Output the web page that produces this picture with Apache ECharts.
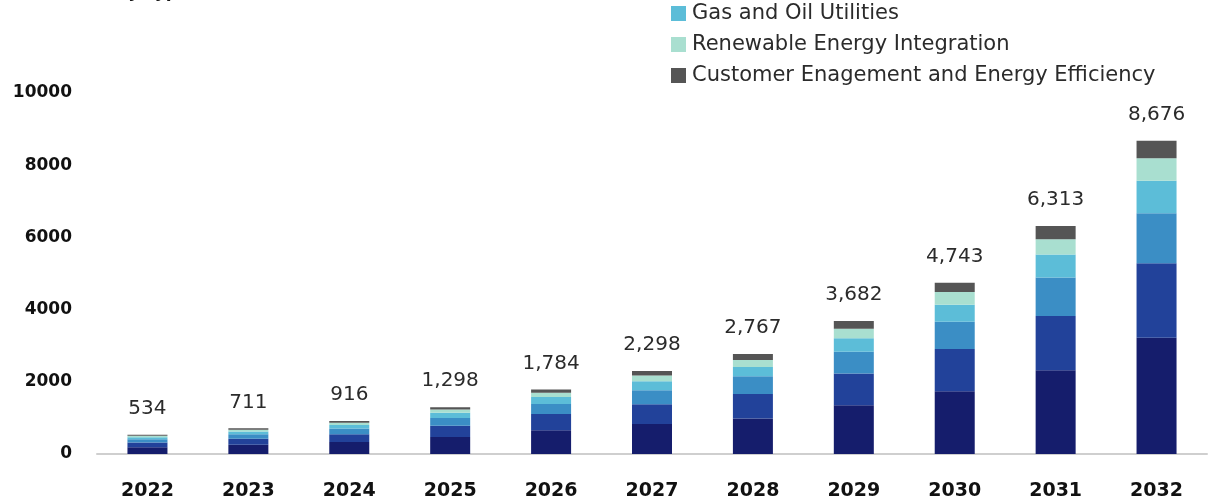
<!DOCTYPE html>
<html>
<head>
<meta charset="utf-8">
<script src="https://cdn.jsdelivr.net/npm/echarts@6/dist/echarts.min.js"></script>
<style>
  html, body { margin: 0; padding: 0; background: #ffffff; }
  #chart { width: 1212px; height: 502px; }
</style>
</head>
<body>
<div id="chart"></div>
<script>
// Years on the category axis
const years = ['2022', '2023', '2024', '2025', '2026', '2027', '2028', '2029', '2030', '2031', '2032'];

// Segment values (USD Million), bottom of the stack first
const segmentA = [190, 255, 330, 470, 661, 832, 982, 1349, 1737, 2319, 3219];
const segmentB = [130, 170, 220, 310, 444, 549, 680, 881, 1174, 1505, 2062];
const segmentC = [90, 120, 155, 220, 283, 388, 491, 600, 751, 1066, 1390];
const gasAndOil = [55, 75, 98, 140, 189, 246, 255, 375, 470, 636, 896];
const renewable = [40, 52, 66, 92, 123, 161, 198, 262, 357, 421, 625];
const engagement = [29, 39, 47, 66, 84, 122, 161, 215, 254, 366, 484];

// Value axis ticks
const yMin = 0;
const yMax = 10000;
const yStep = 2000;

const FONT = '"DejaVu Sans", "Noto Sans", sans-serif';

const stackDefs = [
  { name: 'Segment A', data: segmentA, color: '#151d6c' },
  { name: 'Segment B', data: segmentB, color: '#22429a' },
  { name: 'Segment C', data: segmentC, color: '#3b8ec5' },
  { name: 'Gas and Oil Utilities', data: gasAndOil, color: '#5cbdd8' },
  { name: 'Renewable Energy Integration', data: renewable, color: '#a9dfd0' },
  { name: 'Customer Enagement and Energy Efficiency', data: engagement, color: '#555555' }
];

const totals = years.map((_, i) => stackDefs.reduce((s, d) => s + d.data[i], 0));

const series = stackDefs.map((d, k) => {
  const s = {
    name: d.name,
    type: 'bar',
    stack: 'total',
    barWidth: 40,
    data: d.data,
    itemStyle: { color: d.color },
    emphasis: { disabled: true }
  };
  if (k === stackDefs.length - 1) {
    s.label = {
      show: true,
      position: 'top',
      distance: 16,
      fontFamily: FONT,
      fontSize: 20,
      color: '#2b2b2b',
      formatter: (p) => totals[p.dataIndex].toLocaleString('en-US')
    };
  }
  return s;
});

const chart = echarts.init(document.getElementById('chart'), null, { renderer: 'canvas' });
chart.setOption({
  backgroundColor: '#ffffff',
  animation: false,
  graphic: [{
    type: 'text',
    right: 1212 - 447,
    top: -16,
    style: {
      text: 'Utility Analytics Market Size, by Type, 2022 - 2032 (USD Million)',
      font: 'bold 17px ' + FONT,
      fill: '#1a1a1a'
    }
  }],
  legend: {
    data: ['Gas and Oil Utilities', 'Renewable Energy Integration', 'Customer Enagement and Energy Efficiency'],
    orient: 'vertical',
    left: 666,
    top: -2,
    itemWidth: 15,
    itemHeight: 15,
    itemGap: 10,
    icon: 'rect',
    textStyle: { fontFamily: FONT, fontSize: 21, color: '#2b2b2b', padding: [0, 0, 0, 1] }
  },
  grid: { left: 97, right: 5, top: 93, bottom: 48, containLabel: false },
  xAxis: {
    type: 'category',
    data: years,
    axisLine: { lineStyle: { color: '#cfcfcf', width: 2 } },
    axisTick: { show: false },
    axisLabel: { margin: 28, fontFamily: FONT, fontSize: 19, fontWeight: 'bold', color: '#111111' }
  },
  yAxis: {
    type: 'value',
    min: yMin,
    max: yMax,
    interval: yStep,
    splitLine: { show: false },
    axisLine: { show: false },
    axisTick: { show: false },
    axisLabel: {
      margin: 25, fontFamily: FONT, fontSize: 17, fontWeight: 'bold', color: '#111111',
      formatter: (v) => String(v)
    }
  },
  series: series
});
</script>
</body>
</html>
